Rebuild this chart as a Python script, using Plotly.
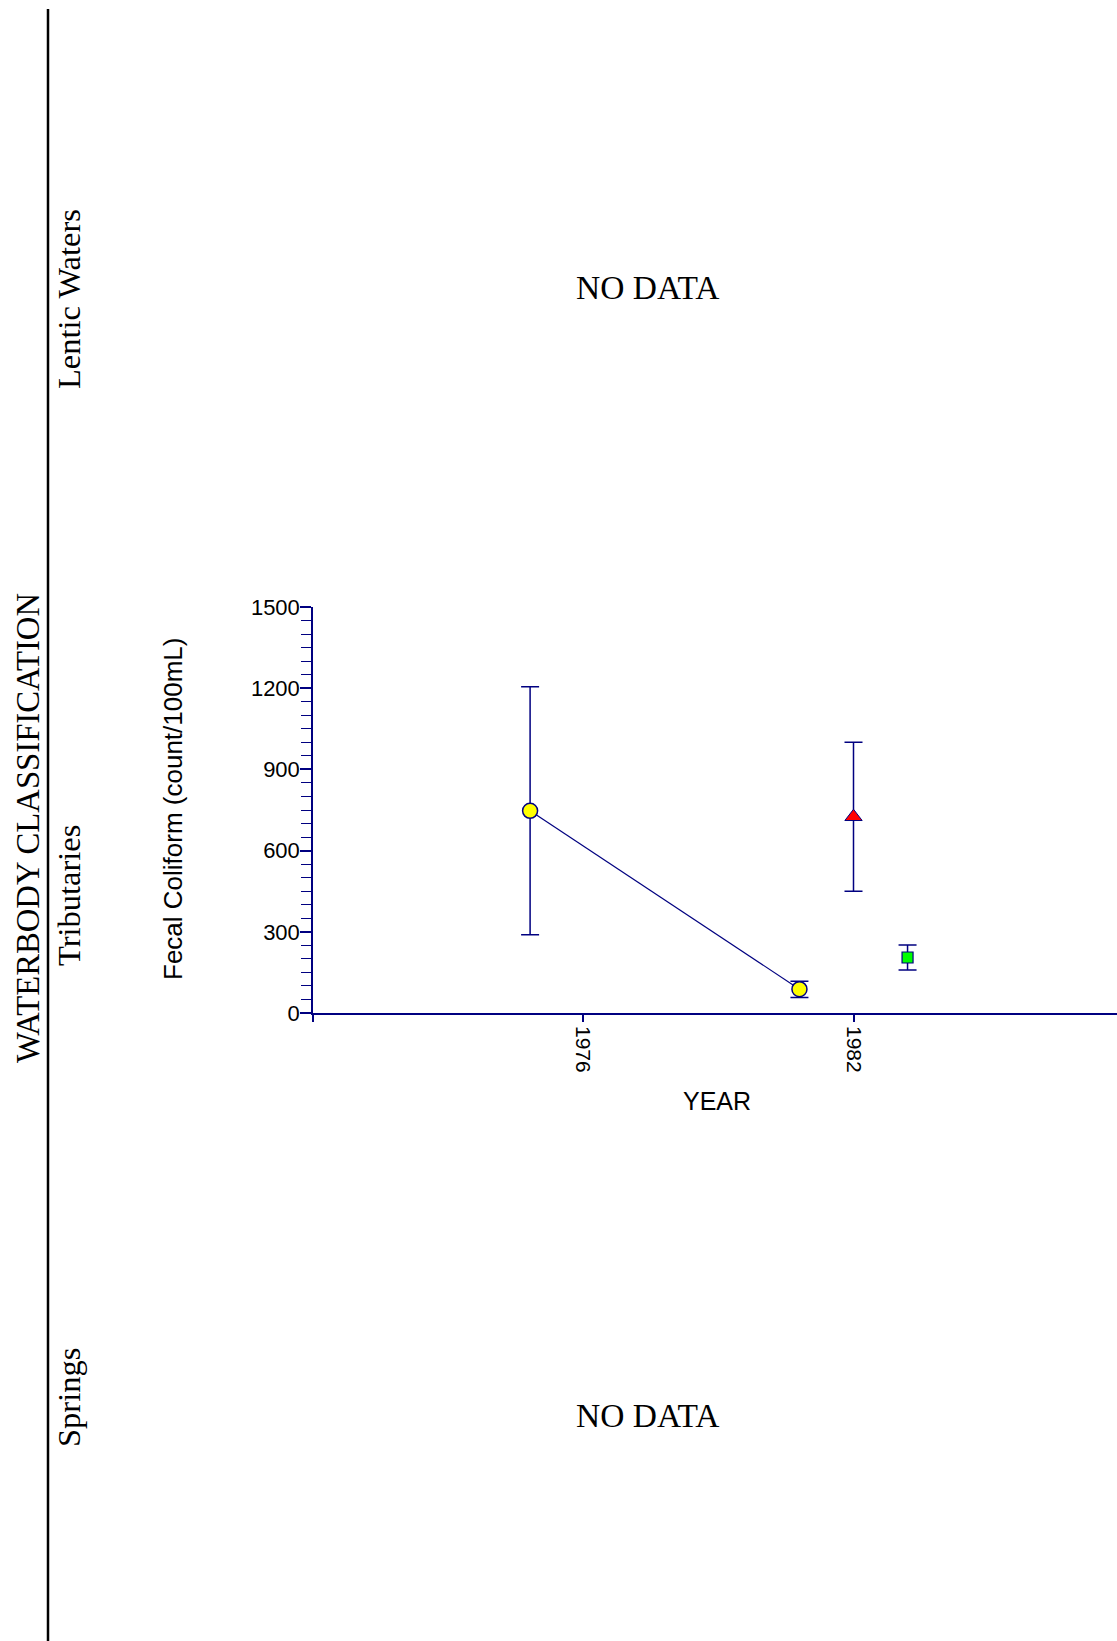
import plotly.graph_objects as go

# ---------------- data ----------------
yellow_years = [1974.82, 1980.80]
yellow_vals = [747, 88]
yellow_upper = [1205, 117]
yellow_lower = [289, 57]

red_years = [1982.0]
red_vals = [725]
red_upper = [1000]
red_lower = [450]

green_years = [1983.2]
green_vals = [205]
green_upper = [251]
green_lower = [159]

y_ticks = [0, 300, 600, 900, 1200, 1500]
x_ticks = [1970, 1976, 1982]
x_ticktext = ["", "1976", "1982"]
panel_labels = ["Lentic Waters", "Tributaries", "Springs"]

# ---------------- layout geometry ----------------
W, H = 1117, 1641
L, R, T, B = 313, 0, 607, 628
PW = W - L - R
PH = H - T - B
NAVY = "#000080"
SANS = "Liberation Sans, Arial, sans-serif"
SERIF = "Liberation Serif, Times New Roman, serif"


def px(x, y):
    return (x - L) / PW, (H - B - y) / PH


def errs(vals, up, lo):
    return dict(type="data", symmetric=False,
                array=[u - v for u, v in zip(up, vals)],
                arrayminus=[v - l for v, l in zip(vals, lo)],
                color=NAVY, thickness=1.5, width=9)


fig = go.Figure()
fig.add_trace(go.Scatter(
    x=yellow_years, y=yellow_vals, mode="lines+markers",
    line=dict(color=NAVY, width=1.2),
    marker=dict(symbol="circle", size=15, color="#FFFF00",
                line=dict(color=NAVY, width=1.5)),
    error_y=errs(yellow_vals, yellow_upper, yellow_lower),
    showlegend=False))
fig.add_trace(go.Scatter(
    x=red_years, y=red_vals, mode="markers",
    marker=dict(symbol="triangle-up", size=15, color="#FF0000",
                line=dict(color=NAVY, width=1)),
    error_y=errs(red_vals, red_upper, red_lower),
    showlegend=False))
fig.add_trace(go.Scatter(
    x=green_years, y=green_vals, mode="markers",
    marker=dict(symbol="square", size=11, color="#00FF00",
                line=dict(color=NAVY, width=1.2)),
    error_y=errs(green_vals, green_upper, green_lower),
    showlegend=False))

fig.update_xaxes(
    range=[1970.0, 1987.85], showgrid=False, zeroline=False,
    showline=True, linecolor=NAVY, linewidth=1.5,
    tickmode="array", tickvals=x_ticks, ticktext=x_ticktext,
    ticks="outside", ticklen=7, tickcolor=NAVY, tickwidth=1.5,
    tickangle=90, tickfont=dict(family=SANS, size=21, color="#000000"))
fig.update_yaxes(
    range=[0, 1500], showgrid=False, zeroline=False,
    showline=True, linecolor=NAVY, linewidth=1.5,
    tickmode="array", tickvals=y_ticks,
    ticks="outside", ticklen=11, tickcolor=NAVY, tickwidth=1.5,
    ticklabelstandoff=-4,
    tickfont=dict(family=SANS, size=22, color="#000000"),
    minor=dict(dtick=50, ticks="outside", ticklen=10, tickcolor=NAVY, tickwidth=1.2))

ann = []
# axis titles
x0, y0 = px(173, 809)
ann.append(dict(x=x0, y=y0, xref="paper", yref="paper", text="Fecal Coliform (count/100mL)",
                textangle=-90, showarrow=False, xanchor="center", yanchor="middle",
                font=dict(family=SANS, size=26, color="#000000")))
x0, y0 = px(717, 1101)
ann.append(dict(x=x0, y=y0, xref="paper", yref="paper", text="YEAR",
                showarrow=False, xanchor="center", yanchor="middle",
                font=dict(family=SANS, size=25, color="#000000")))
# left classification labels
x0, y0 = px(28, 828)
ann.append(dict(x=x0, y=y0, xref="paper", yref="paper", text="WATERBODY CLASSIFICATION",
                textangle=-90, showarrow=False, xanchor="center", yanchor="middle",
                font=dict(family=SERIF, size=32.7, color="#000000")))
for lab, cy in zip(panel_labels, [299, 896, 1398]):
    x0, y0 = px(69, cy)
    ann.append(dict(x=x0, y=y0, xref="paper", yref="paper", text=lab,
                    textangle=-90, showarrow=False, xanchor="center", yanchor="middle",
                    font=dict(family=SERIF, size=32.5, color="#000000")))
for cy in [287, 1415]:
    x0, y0 = px(647, cy)
    ann.append(dict(x=x0, y=y0, xref="paper", yref="paper", text="NO DATA",
                    showarrow=False, xanchor="center", yanchor="middle",
                    font=dict(family=SERIF, size=33.5, color="#000000")))

xa, ya = px(48, 9)
xb, yb = px(48, H)
shapes = [dict(type="line", xref="paper", yref="paper", x0=xa, x1=xb, y0=ya, y1=yb,
               line=dict(color="#000000", width=2.5))]

fig.update_layout(
    width=W, height=H, margin=dict(l=L, r=R, t=T, b=B, pad=0),
    paper_bgcolor="#FFFFFF", plot_bgcolor="#FFFFFF",
    annotations=ann, shapes=shapes, showlegend=False)

fig.write_html("out.html", config={"displayModeBar": False})
